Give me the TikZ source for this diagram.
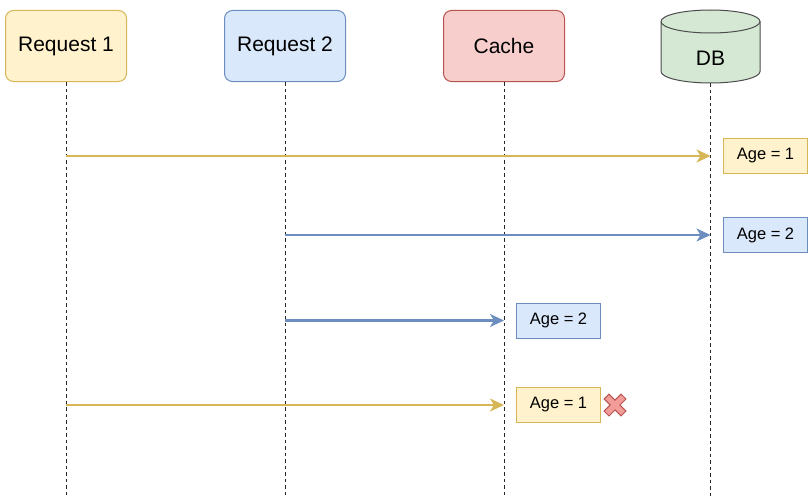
\documentclass[tikz,border=0pt]{standalone}
\usepackage{fontspec}
\setmainfont{Liberation Sans}
\usetikzlibrary{arrows.meta}
\definecolor{yfill}{HTML}{FFF2CC}
\definecolor{yline}{HTML}{D6B656}
\definecolor{bfill}{HTML}{DAE8FC}
\definecolor{bline}{HTML}{6C8EBF}
\definecolor{rfill}{HTML}{F8CECC}
\definecolor{rline}{HTML}{B85450}
\definecolor{gfill}{HTML}{D5E8D4}
\definecolor{gline}{HTML}{82B366}
\definecolor{xfill}{HTML}{F19C99}

\begin{document}
\begin{tikzpicture}[x=1pt, y=-1pt,
    actor/.style={draw, rounded corners=8pt, minimum width=121pt, minimum height=71pt,
        line width=1pt, font=\fontsize{21}{25}\selectfont},
    agebox/.style={draw, minimum width=84pt, minimum height=35pt,
        line width=1pt, font=\fontsize{16.5}{20}\selectfont},
    life/.style={dash pattern=on 3.5pt off 3pt, line width=0.9pt, black!85},
    msg/.style={-{Stealth[length=14pt, width=13pt, inset=4pt]}, line width=2.2pt}]
    \useasboundingbox (0,0) rectangle (810,503);

    % participants
    \node[actor, fill=yfill, draw=yline] (req1) at (66,46) {Request 1};
    \node[actor, fill=bfill, draw=bline] (req2) at (285,46) {Request 2};
    \node[actor, fill=rfill, draw=rline] (cache) at (504,46) {Cache};
    \filldraw[fill=gfill, draw=black!70, line width=1pt]
        (661,21.5) -- (661,71.5) arc[start angle=180, end angle=360, x radius=49.5pt, y radius=11.5pt]
        -- (760,21.5) arc[start angle=0, end angle=180, x radius=49.5pt, y radius=11.5pt] -- cycle;
    \draw[black!70, line width=1pt] (661,21.5) arc[start angle=180, end angle=360, x radius=49.5pt, y radius=11.5pt];
    \node[font=\fontsize{21}{25}\selectfont] (db) at (710.5,58) {DB};
    \coordinate (dbbase) at (710.5,83);
    \coordinate (bottom) at (0,497);

    % lifelines
    \draw[life] (req1.south) -- (req1.south |- bottom);
    \draw[life] (req2.south) -- (req2.south |- bottom);
    \draw[life] (cache.south) -- (cache.south |- bottom);
    \draw[life] (dbbase) -- (dbbase |- bottom);

    % values
    \node[agebox, fill=yfill, draw=yline] (a1) at (765.5,156) {Age = 1};
    \node[agebox, fill=bfill, draw=bline] (a2) at (765.5,235) {Age = 2};
    \node[agebox, fill=bfill, draw=bline] (a3) at (558.5,320.5) {Age = 2};
    \node[agebox, fill=yfill, draw=yline] (a4) at (558.5,405) {Age = 1};

    % writes
    \draw[msg, yline] (req1 |- a1) -- (db |- a1);
    \draw[msg, bline] (req2 |- a2) -- (db |- a2);
    \draw[msg, bline] (req2 |- a3) -- (cache |- a3);
    \draw[msg, yline] (req1 |- a4) -- (cache |- a4);

    % rejected
    \begin{scope}[shift={(615,405)}, rotate=45]
        \filldraw[fill=xfill, draw=rline, line width=1pt]
            (3.5,12) -- (3.5,3.5) -- (12,3.5) -- (12,-3.5) -- (3.5,-3.5) -- (3.5,-12)
            -- (-3.5,-12) -- (-3.5,-3.5) -- (-12,-3.5) -- (-12,3.5) -- (-3.5,3.5) -- (-3.5,12) -- cycle;
    \end{scope}
\end{tikzpicture}
\end{document}
